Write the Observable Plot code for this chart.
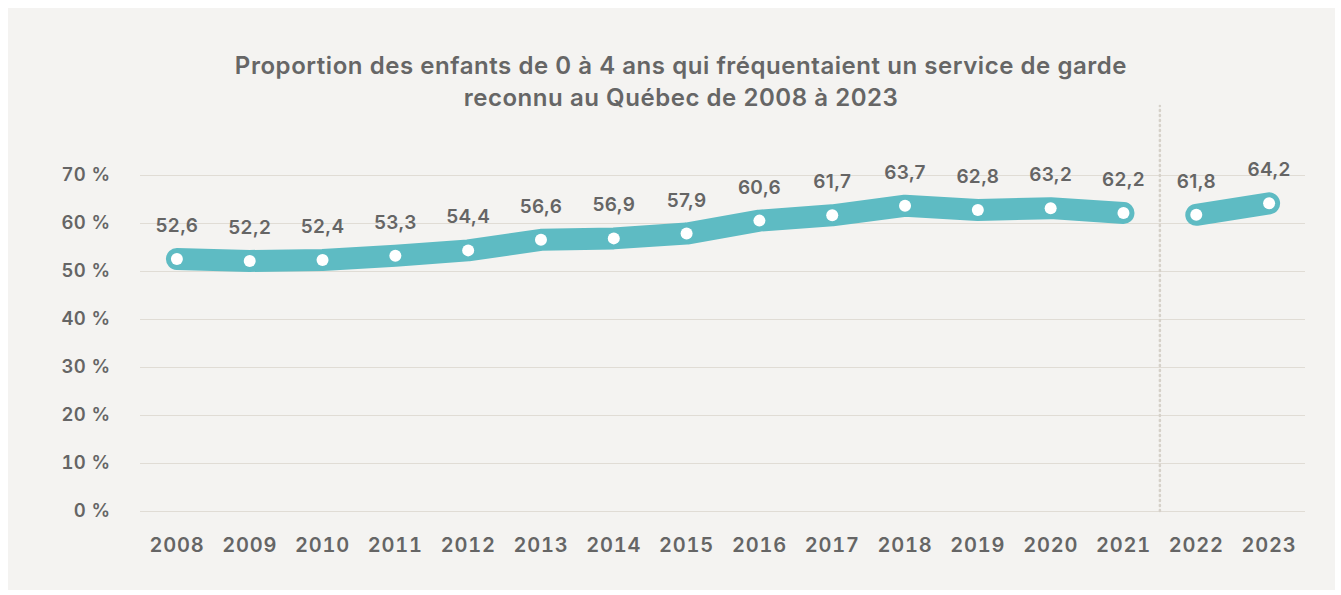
<!DOCTYPE html>
<html>
<head>
<meta charset="utf-8">
<script src="https://cdn.jsdelivr.net/npm/d3@7"></script>
<script src="https://cdn.jsdelivr.net/npm/@observablehq/plot@0.6"></script>
<style>
  html, body { margin: 0; padding: 0; background: #ffffff; }
  #panel { position: absolute; left: 8px; top: 8px; width: 1327px; height: 582px; background: #f4f3f1; overflow: hidden; }
  #title { position: absolute; left: 0; top: 42px; width: 1346px; text-align: center; font-family: Inter, "Open Sans", sans-serif; font-weight: 600; font-size: 24px; line-height: 32px; color: #666666; letter-spacing: 0.55px; }
  #chart { position: absolute; left: 0; top: 0; }
  #chart g[aria-label="x-axis tick label"] text { letter-spacing: 0.8px; }
  #chart g[aria-label="y-axis tick label"] text { letter-spacing: 0.4px; }
  #chart g[aria-label="text"] text { letter-spacing: 0.3px; }
</style>
</head>
<body>
<div id="panel">
  <div id="chart"></div>
  <div id="title">Proportion des enfants de 0 à 4 ans qui fréquentaient un service de garde<br>reconnu au Québec de 2008 à 2023</div>
</div>
<script>
const years = [2008, 2009, 2010, 2011, 2012, 2013, 2014, 2015, 2016, 2017, 2018, 2019, 2020, 2021, 2022, 2023];
const values = [52.6, 52.2, 52.4, 53.3, 54.4, 56.6, 56.9, 57.9, 60.6, 61.7, 63.7, 62.8, 63.2, 62.2, 61.8, 64.2];
const segments = ["A", "A", "A", "A", "A", "A", "A", "A", "A", "A", "A", "A", "A", "A", "B", "B"];
const yTicks = [0, 10, 20, 30, 40, 50, 60, 70];
const breakYear = 2021.5;

const data = years.map((y, i) => ({year: y, value: values[i], seg: segments[i]}));
const fmt = v => v.toFixed(1).replace(".", ",");

const textColor = "#656565";
const font = "Inter, 'Open Sans', sans-serif";

const chart = Plot.plot({
  width: 1327,
  height: 582,
  marginLeft: 132,
  marginRight: 30,
  marginTop: 167,
  marginBottom: 79,
  style: {background: "transparent", fontFamily: font, fontWeight: 600, fontSize: "19px", color: textColor, overflow: "visible"},
  x: {domain: [2007.5, 2023.5], label: null},
  y: {domain: [0, 70], label: null},
  marks: [
    Plot.ruleY(yTicks, {stroke: "#e0dcd5", strokeWidth: 1.2}),
    Plot.ruleX([breakYear], {y1: 0, y2: 84.4, stroke: "#d6d1c9", strokeWidth: 2.5, strokeDasharray: "1 4", strokeLinecap: "round"}),
    Plot.axisY(yTicks, {tickSize: 0, tickPadding: 30, tickFormat: d => d + " %", fontSize: 18.5, fontWeight: 600, fill: textColor}),
    Plot.axisX(years, {tickSize: 0, tickPadding: 26, tickFormat: d => String(d), fontSize: 20, fontWeight: 600, fill: textColor}),
    Plot.line(data, {x: "year", y: "value", z: "seg", stroke: "#5ebbc3", strokeWidth: 22, strokeLinecap: "round", strokeLinejoin: "round"}),
    Plot.dot(data, {x: "year", y: "value", r: 6, fill: "white", stroke: null}),
    Plot.text(data, {x: "year", y: "value", text: d => fmt(d.value), dy: -33, fontSize: 19, fontWeight: 600, fill: textColor})
  ]
});
document.getElementById("chart").appendChild(chart);
</script>
</body>
</html>
